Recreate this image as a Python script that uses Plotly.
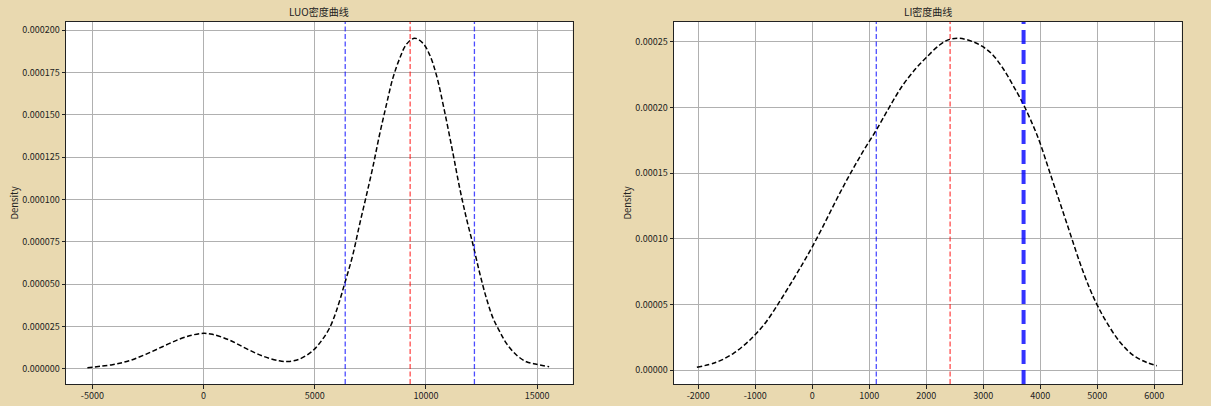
import plotly.graph_objects as go

# ---- data ----
luo_x = [-5225, -4100, -3350, -2600, -1850, -1100, -500, 0, 400, 1150, 1900, 2650,
         3400, 3800, 4300, 4900, 5300, 5660, 5960, 6350, 6710, 7010, 7310, 7610,
         7910, 8220, 8510, 8820, 9120, 9490, 9870, 10170, 10470, 10840, 11220,
         11520, 11820, 12120, 12420, 12720, 13020, 13320, 13620, 14070, 14520,
         14970, 15540]
luo_y = [0.0000006, 0.0000024, 0.0000047, 0.0000085, 0.0000130, 0.0000174,
         0.0000199, 0.0000209, 0.0000203, 0.0000170, 0.0000120, 0.0000075,
         0.0000047, 0.0000043, 0.0000056, 0.0000105, 0.0000165, 0.0000239,
         0.0000337, 0.0000505, 0.0000672, 0.0000849, 0.0001017, 0.0001190,
         0.0001381, 0.0001559, 0.0001716, 0.0001834, 0.0001917, 0.0001953,
         0.0001923, 0.0001854, 0.0001736, 0.0001519, 0.0001270, 0.0001066,
         0.0000889, 0.0000731, 0.0000564, 0.0000416, 0.0000298, 0.0000219,
         0.0000150, 0.0000081, 0.0000041, 0.0000026, 0.0000012]
luo_mean = 9290
luo_low = 6370
luo_high = 12180

li_x = [-2025, -1685, -1393, -1158, -1000, -807, -574, -340, -165, 0, 186, 421,
        654, 888, 1123, 1356, 1589, 1825, 2000, 2233, 2409, 2584, 2818, 2993,
        3168, 3344, 3519, 3695, 3870, 3988, 4163, 4339, 4514, 4689, 4865, 4993,
        5158, 5392, 5626, 5860, 6046]
li_y = [0.0000023, 0.0000061, 0.0000126, 0.0000205, 0.0000272, 0.0000370,
        0.0000522, 0.0000687, 0.0000814, 0.0000940, 0.0001093, 0.0001296,
        0.0001486, 0.0001663, 0.0001828, 0.0002005, 0.0002170, 0.0002300,
        0.0002380, 0.0002475, 0.0002518, 0.0002526, 0.0002500, 0.0002462,
        0.0002399, 0.0002298, 0.0002170, 0.0002031, 0.0001866, 0.0001739,
        0.0001511, 0.0001283, 0.0001054, 0.0000826, 0.0000624, 0.0000502,
        0.0000370, 0.0000218, 0.0000116, 0.0000061, 0.0000035]
li_mean = 2418
li_low = 1123
li_high = 3707

luo_xticks = [-5000, 0, 5000, 10000, 15000]
luo_yticks = [0, 0.000025, 0.00005, 0.000075, 0.0001, 0.000125, 0.00015, 0.000175, 0.0002]
luo_yticktext = ["0.000000", "0.000025", "0.000050", "0.000075", "0.000100",
                 "0.000125", "0.000150", "0.000175", "0.000200"]
li_xticks = [-2000, -1000, 0, 1000, 2000, 3000, 4000, 5000, 6000]
li_yticks = [0, 0.00005, 0.0001, 0.00015, 0.0002, 0.00025]
li_yticktext = ["0.00000", "0.00005", "0.00010", "0.00015", "0.00020", "0.00025"]

titles = ["LUO密度曲线", "LI密度曲线"]

# ---- figure ----
W, H = 1211, 406
BG = "#E9D9B0"
FONT = "Noto Sans CJK SC"
fig = go.Figure()

fig.add_trace(go.Scatter(x=luo_x, y=luo_y, mode="lines", line_shape="spline",
                         line=dict(color="black", width=1.5, dash="5px,2.5px"),
                         xaxis="x", yaxis="y", showlegend=False, hoverinfo="skip"))
fig.add_trace(go.Scatter(x=li_x, y=li_y, mode="lines", line_shape="spline",
                         line=dict(color="black", width=1.5, dash="5px,2.5px"),
                         xaxis="x2", yaxis="y2", showlegend=False, hoverinfo="skip"))

def vline(xv, xref, yref, color, width, dash):
    fig.add_shape(type="line", x0=xv, x1=xv, y0=0, y1=1, xref=xref, yref=yref + " domain",
                  line=dict(color=color, width=width, dash=dash), layer="above")

vline(luo_low, "x", "y", "rgba(0,0,255,0.7)", 1.3, "5px,2.5px")
vline(luo_mean, "x", "y", "rgba(255,0,0,0.7)", 1.3, "5px,2.5px")
vline(luo_high, "x", "y", "rgba(0,0,255,0.7)", 1.3, "5px,2.5px")
vline(li_low, "x2", "y2", "rgba(0,0,255,0.7)", 1.3, "5px,2.5px")
vline(li_mean, "x2", "y2", "rgba(255,0,0,0.7)", 1.3, "5px,2.5px")
vline(li_high, "x2", "y2", "rgba(0,0,255,0.8)", 4, "14px,6px")

dom_x1 = [66 / W, 572.7 / W]
dom_x2 = [674 / W, 1181.7 / W]
dom_y = [(H - 384) / H, (H - 22) / H]

axis_common = dict(showgrid=True, gridcolor="#b0b0b0", gridwidth=0.8,
                   showline=True, linecolor="#222222", linewidth=1, mirror=True,
                   ticks="outside", ticklen=3.5, tickwidth=0.8, tickcolor="#222222",
                   zeroline=False, tickfont=dict(family=FONT, size=9, color="#222222"))

fig.update_layout(
    width=W, height=H, margin=dict(l=0, r=0, t=0, b=0),
    paper_bgcolor=BG, plot_bgcolor="white",
    font=dict(family=FONT, size=10, color="#222222"),
    xaxis=dict(domain=dom_x1, range=[-6187, 16600], tickmode="array",
               tickvals=luo_xticks, ticktext=[str(v) for v in luo_xticks],
               anchor="y", **axis_common),
    yaxis=dict(domain=dom_y, range=[-0.00000904, 0.0002049], tickmode="array",
               tickvals=luo_yticks, ticktext=luo_yticktext, anchor="x",
               title=dict(text="Density", standoff=1,
                          font=dict(family=FONT, size=9.5)), **axis_common),
    xaxis2=dict(domain=dom_x2, range=[-2426, 6481], tickmode="array",
                tickvals=li_xticks, ticktext=[str(v) for v in li_xticks],
                anchor="y2", **axis_common),
    yaxis2=dict(domain=dom_y, range=[-0.0000104, 0.000265], tickmode="array",
                tickvals=li_yticks, ticktext=li_yticktext, anchor="x2",
                title=dict(text="Density", standoff=1,
                           font=dict(family=FONT, size=9.5)), **axis_common),
    annotations=[
        dict(text=titles[0], x=0.5, y=1, xref="x domain", yref="y domain",
             xanchor="center", yanchor="bottom", yshift=1, showarrow=False,
             font=dict(family=FONT, size=10, color="#222222")),
        dict(text=titles[1], x=0.5, y=1, xref="x2 domain", yref="y2 domain",
             xanchor="center", yanchor="bottom", yshift=1, showarrow=False,
             font=dict(family=FONT, size=10, color="#222222")),
    ],
)

fig.write_html("out.html", config={"displayModeBar": False},
               post_script="document.body.style.margin='0';document.body.style.overflow='hidden';")
